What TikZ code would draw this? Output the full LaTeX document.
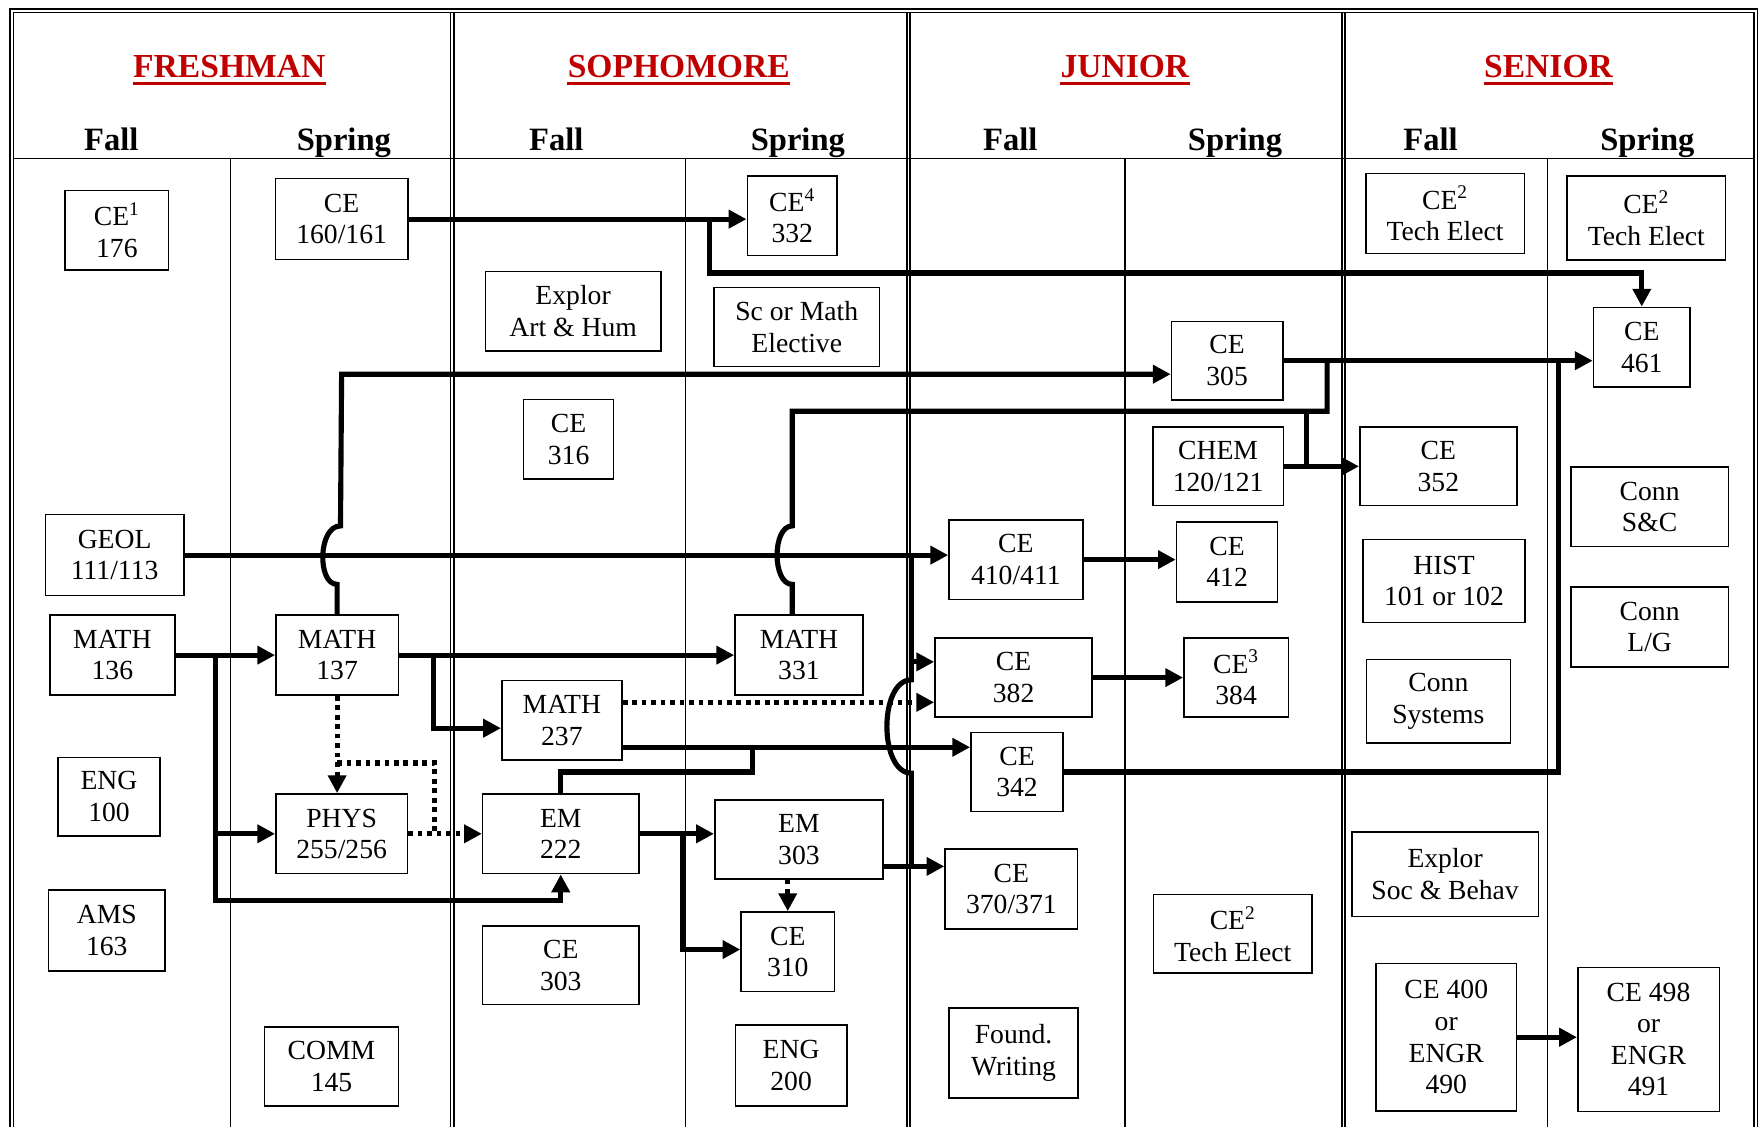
\documentclass[tikz,border=0pt]{standalone}
\usepackage{fontspec}
\setmainfont{Liberation Serif}
\usetikzlibrary{arrows.meta}
\definecolor{yrred}{HTML}{C00000}

\tikzset{
  crs/.style={rectangle, draw, line width=0.8pt, minimum height=1.42cm, inner sep=1pt, align=center, font=\fontsize{14}{16}\selectfont},
  frm/.style={line width=0.8pt},
  link/.style={line width=2.6pt},
  arr/.style={link, -{Triangle[length=9pt,width=9pt]}},
  dotlink/.style={link, dash pattern=on 2.4pt off 2.4pt},
  dotarr/.style={dotlink, -{Triangle[length=9pt,width=9pt]}},
  yr/.style={inner sep=0pt, text=yrred, font=\fontsize{17}{20}\selectfont\bfseries},
  sem/.style={inner sep=0pt, anchor=base, font=\fontsize{16.5}{20}\selectfont\bfseries},
}

\begin{document}
\begin{tikzpicture}[x=0.02cm, y=-0.02cm]
  \useasboundingbox (0,0) rectangle (1568,1003);

  % Frame and grid
  \draw[frm] (9,1003) -- (9,8) -- (1564,8) -- (1564,1003);
  \draw[frm] (12,1003) -- (12,11) -- (1561,11) -- (1561,1003);
  \foreach \x in {401,807,1194} {
    \draw[frm] (\x,11) -- (\x,1003);
    \draw[frm] (\x+3,11) -- (\x+3,1003);
  }
  \draw[frm] (12,141) -- (1561,141);
  \foreach \x in {205,610,1001,1377}
    \draw[frm] (\x,141) -- (\x,1003);

  % Year headers
  \node[yr] (fr) at (204,59) {FRESHMAN};
  \node[yr] (so) at (604,59) {SOPHOMORE};
  \node[yr] (ju) at (1001,59) {JUNIOR};
  \node[yr] (se) at (1378,59) {SENIOR};
  \foreach \n in {fr,so,ju,se}
    \draw[yrred, line width=1.6pt] ([yshift=-3pt]\n.base west) -- ([yshift=-3pt]\n.base east);

  % Semester headers
  \node[sem] (frF) at (99,134) {Fall};
  \node[sem] (frS) at (306,134) {Spring};
  \node[sem] (soF) at (495,134) {Fall};
  \node[sem] (soS) at (710,134) {Spring};
  \node[sem] (juF) at (899,134) {Fall};
  \node[sem] (juS) at (1099,134) {Spring};
  \node[sem] (seF) at (1273,134) {Fall};
  \node[sem] (seS) at (1466,134) {Spring};

  % Courses
  \node[crs, minimum width=1.84cm] (ce176) at (104,205) {CE\textsuperscript{1}\\176};
  \node[crs, minimum width=2.36cm, minimum height=1.44cm] (ce160) at (304,195) {CE\\160/161};
  \node[crs, minimum width=1.60cm] (ce332) at (705,192) {CE\textsuperscript{4}\\332};
  \node[crs, minimum width=3.12cm] (artHum) at (510,277) {Explor\\Art \& Hum};
  \node[crs, minimum width=2.94cm, minimum height=1.40cm] (scMath) at (709,291) {Sc or Math\\Elective};
  \node[crs, minimum width=1.60cm] (ce316) at (506,391) {CE\\316};
  \node[crs, minimum width=2.82cm] (techA) at (1286,190) {CE\textsuperscript{2}\\Tech Elect};
  \node[crs, minimum width=2.82cm, minimum height=1.50cm] (techB) at (1465,194) {CE\textsuperscript{2}\\Tech Elect};
  \node[crs, minimum width=1.72cm] (ce461) at (1461,309) {CE\\461};
  \node[crs, minimum width=1.98cm, minimum height=1.40cm] (ce305) at (1092,321) {CE\\305};
  \node[crs, minimum width=2.32cm, minimum height=1.40cm] (chem) at (1084,415) {CHEM\\120/121};
  \node[crs, minimum width=2.80cm, minimum height=1.40cm] (ce352) at (1280,415) {CE\\352};
  \node[crs, minimum width=2.80cm] (connSC) at (1468,451) {Conn\\S\&C};
  \node[crs, minimum width=2.46cm, minimum height=1.44cm] (geol) at (102,494) {GEOL\\111/113};
  \node[crs, minimum width=2.38cm] (ce410) at (904,498) {CE\\410/411};
  \node[crs, minimum width=1.80cm] (ce412) at (1092,500) {CE\\412};
  \node[crs, minimum width=2.88cm, minimum height=1.48cm] (hist) at (1285,517) {HIST\\101 or 102};
  \node[crs, minimum width=2.80cm] (connLG) at (1468,558) {Conn\\L/G};
  \node[crs, minimum width=2.22cm] (m136) at (100,583) {MATH\\136};
  \node[crs, minimum width=2.18cm] (m137) at (300,583) {MATH\\137};
  \node[crs, minimum width=2.28cm] (m331) at (711,583) {MATH\\331};
  \node[crs, minimum width=2.80cm, minimum height=1.40cm] (ce382) at (902,603) {CE\\382};
  \node[crs, minimum width=1.86cm, minimum height=1.40cm] (ce384) at (1100,603) {CE\textsuperscript{3}\\384};
  \node[crs, minimum width=2.56cm, minimum height=1.48cm] (connSys) at (1280,624) {Conn\\Systems};
  \node[crs, minimum width=2.14cm] (m237) at (500,641) {MATH\\237};
  \node[crs, minimum width=1.64cm, minimum height=1.40cm] (ce342) at (905,687) {CE\\342};
  \node[crs, minimum width=1.82cm, minimum height=1.40cm] (eng100) at (97,709) {ENG\\100};
  \node[crs, minimum width=2.34cm] (phys) at (304,742) {PHYS\\255/256};
  \node[crs, minimum width=2.78cm] (em222) at (499,742) {EM\\222};
  \node[crs, minimum width=3.00cm, minimum height=1.40cm] (em303) at (711,747) {EM\\303};
  \node[crs, minimum width=2.36cm] (ce370) at (900,791) {CE\\370/371};
  \node[crs, minimum width=3.32cm, minimum height=1.50cm] (socBeh) at (1286,778) {Explor\\Soc \& Behav};
  \node[crs, minimum width=2.08cm, minimum height=1.44cm] (ams163) at (95,828) {AMS\\163};
  \node[crs, minimum width=1.66cm] (ce310) at (701,847) {CE\\310};
  \node[crs, minimum width=2.78cm, minimum height=1.40cm] (ce303) at (499,859) {CE\\303};
  \node[crs, minimum width=2.82cm, minimum height=1.40cm] (techC) at (1097,831) {CE\textsuperscript{2}\\Tech Elect};
  \node[crs, minimum width=2.50cm, minimum height=2.62cm] (ce400) at (1287,923) {CE 400\\or\\ENGR\\490};
  \node[crs, minimum width=2.52cm, minimum height=2.56cm] (ce498) at (1467,925) {CE 498\\or\\ENGR\\491};
  \node[crs, minimum width=2.30cm, minimum height=1.60cm] (found) at (902,937) {Found.\\Writing};
  \node[crs, minimum width=2.38cm, minimum height=1.40cm] (comm145) at (295,949) {COMM\\145};
  \node[crs, minimum width=1.98cm, minimum height=1.44cm] (eng200) at (704,948) {ENG\\200};

  % Junction points
  \coordinate (k1) at (631,243);
  \coordinate (k2) at (304,333);
  \coordinate (k3) at (705,366);
  \coordinate (k4) at (1163,366);
  \coordinate (k18) at (1181,366);
  \coordinate (k5) at (192,801);
  \coordinate (k6) at (386,648);
  \coordinate (k7) at (300,679);
  \coordinate (k8) at (387,679);
  \coordinate (k11) at (670,687);
  \coordinate (k12) at (607,845);
  \coordinate (k14) at (811,494);
  \coordinate (k15) at (811,771);
  \coordinate (k17) at (1387,687);
  \path (m237.east) ++(0,-16) coordinate (k9);
  \path (m237.east) ++(0,24) coordinate (k10);
  \path (em303.east) ++(0,24) coordinate (k13);
  \path (ce382.west) ++(0,-14) coordinate (k16);

  % Prerequisite links
  \draw[arr] (ce160.east) -- (ce160.east -| ce332.west);
  \draw[arr] (ce160.east -| k1) -- (k1) -| (ce461.north);
  \draw[arr] (m137.north) -- (300,520) .. controls (282,520) and (283,468) .. (303,468) -- (k2) -- (k2 -| ce305.west);
  \draw[link] (m331.north -| k3) -- (705,520) .. controls (687,520) and (687,468) .. (705,468) -- (k3) -- (k18) -- (k18 |- ce305.east);
  \draw[link] (k4) -- (k4 |- chem.east);
  \draw[arr] (ce305.east) -- (ce305.east -| ce461.west);
  \draw[arr] (chem.east) -- (chem.east -| ce352.west);
  \draw[arr] (geol.east) -- (geol.east -| ce410.west);
  \draw[arr] (m136.east) -- (m137.west);
  \draw[arr] (m136.east -| k5) -- (k5) -| (em222.south);
  \draw[arr] (k5 |- phys.west) -- (phys.west);
  \draw[arr] (m137.east) -- (m137.east -| m331.west);
  \draw[arr] (m137.east -| k6) -- (k6) -- (k6 -| m237.west);
  \draw[dotarr] (m137.south) -- (m137.south |- phys.north);
  \draw[dotlink] (k7) -- (k8) -- (k8 |- phys.east);
  \draw[dotarr] (phys.east) -- (phys.east -| em222.west);
  \draw[dotarr] (k9) -- (k9 -| ce382.west);
  \draw[arr] (k10) -- (k10 -| ce342.west);
  \draw[link] (em222.north) -- (em222.north |- k11) -- (k11) -- (k11 |- k10);
  \draw[arr] (em222.east) -- (em222.east -| em303.west);
  \draw[arr] (em222.east -| k12) -- (k12) -- (k12 -| ce310.west);
  \draw[dotarr] (em303.south -| ce310.north) -- (ce310.north);
  \draw[arr] (k13) -- (k13 -| ce370.west);
  \draw[link] (k14) -- (811,605) .. controls (782,605) and (782,688) .. (811,688) -- (k15);
  \draw[arr] (k16 -| k14) -- (k16);
  \draw[arr] (ce410.east) -- (ce410.east -| ce412.west);
  \draw[arr] (ce382.east) -- (ce382.east -| ce384.west);
  \draw[link] (ce342.east) -- (ce342.east -| k17) -- (k17 |- ce305.east);
  \draw[arr] (ce400.east) -- (ce400.east -| ce498.west);
\end{tikzpicture}
\end{document}
